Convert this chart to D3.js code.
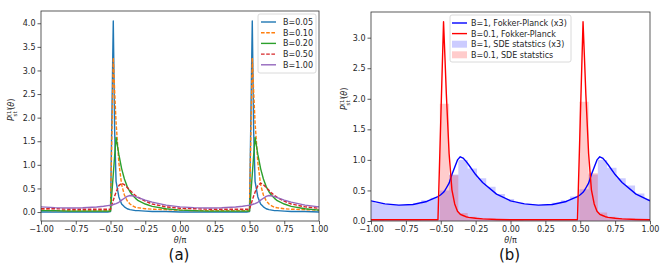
<!DOCTYPE html>
<html>
<head>
<meta charset="utf-8">
<script src="https://cdn.jsdelivr.net/npm/d3@7"></script>
<style>
  body { margin: 0; background: #fff; }
  text { font-family: "DejaVu Sans", sans-serif; }
</style>
</head>
<body>
<div id="chart"></div>
<script>
// theta/pi grid shared by the line curves
const theta = [-1.00,-0.90,-0.80,-0.70,-0.60,-0.55,-0.52,-0.50,
  -0.48,-0.47,-0.46,-0.44,-0.42,-0.40,-0.38,-0.36,-0.34,-0.32,-0.30,
  -0.25,-0.20,-0.10,0.00,
  0.10,0.20,0.30,0.40,0.45,0.48,0.50,
  0.52,0.53,0.54,0.56,0.58,0.60,0.62,0.64,0.66,0.68,0.70,
  0.75,0.80,0.90,1.00];

// panel (a) curves
const pB005 = [0.00,0.00,0.00,0.00,0.00,0.00,0.00,0.01,
  4.05,1.70,0.65,0.32,0.17,0.11,0.07,0.05,0.04,0.03,0.03,
  0.02,0.01,0.01,0.00,
  0.00,0.00,0.00,0.00,0.00,0.00,0.01,
  4.05,1.70,0.65,0.32,0.17,0.11,0.07,0.05,0.04,0.03,0.03,
  0.02,0.01,0.01,0.00];
const pB010 = [0.04,0.03,0.03,0.03,0.03,0.03,0.03,0.03,
  3.27,2.55,1.90,1.05,0.58,0.36,0.24,0.17,0.13,0.10,0.09,
  0.07,0.06,0.05,0.04,
  0.03,0.03,0.03,0.03,0.03,0.03,0.03,
  3.27,2.55,1.90,1.05,0.58,0.36,0.24,0.17,0.13,0.10,0.09,
  0.07,0.06,0.05,0.04];
const pB020 = [0.03,0.03,0.02,0.02,0.02,0.02,0.02,0.02,
  0.80,1.20,1.58,1.22,0.92,0.70,0.54,0.43,0.35,0.29,0.24,
  0.17,0.12,0.07,0.04,
  0.03,0.02,0.02,0.02,0.02,0.02,0.02,
  0.80,1.20,1.58,1.22,0.92,0.70,0.54,0.43,0.35,0.29,0.24,
  0.17,0.12,0.07,0.04];
const pB050 = [0.07,0.07,0.06,0.06,0.06,0.06,0.06,0.06,
  0.25,0.34,0.42,0.56,0.61,0.58,0.52,0.46,0.40,0.35,0.31,
  0.23,0.17,0.11,0.08,
  0.07,0.06,0.06,0.06,0.06,0.06,0.06,
  0.25,0.34,0.42,0.56,0.61,0.58,0.52,0.46,0.40,0.35,0.31,
  0.23,0.17,0.11,0.08];
const pB100 = [0.110,0.093,0.087,0.090,0.107,0.123,0.135,0.143,
  0.160,0.170,0.180,0.207,0.253,0.293,0.333,0.350,0.343,0.327,0.307,
  0.253,0.210,0.147,0.110,
  0.093,0.087,0.090,0.107,0.123,0.135,0.143,
  0.160,0.170,0.180,0.207,0.253,0.293,0.333,0.350,0.343,0.327,0.307,
  0.253,0.210,0.147,0.110];

const seriesA = [
  {label: "B=0.05", values: pB005, color: "#1f77b4", dash: null},
  {label: "B=0.10", values: pB010, color: "#ff7f0e", dash: "3.6,1.6"},
  {label: "B=0.20", values: pB020, color: "#2ca02c", dash: null},
  {label: "B=0.50", values: pB050, color: "#d62728", dash: "3.6,1.6"},
  {label: "B=1.00", values: pB100, color: "#9467bd", dash: null}
];

// panel (b) Fokker-Planck curves
const fpB1x3 = [0.33,0.28,0.26,0.27,0.32,0.37,0.40,0.43,
  0.47,0.50,0.54,0.62,0.76,0.88,1.00,1.05,1.03,0.98,0.92,
  0.76,0.63,0.44,0.33,
  0.28,0.26,0.27,0.32,0.37,0.40,0.43,
  0.47,0.50,0.54,0.62,0.76,0.88,1.00,1.05,1.03,0.98,0.92,
  0.76,0.63,0.44,0.33];
const fpB01 = [0.02,0.02,0.02,0.02,0.02,0.02,0.02,1.64,
  3.26,2.68,2.08,1.10,0.51,0.28,0.16,0.11,0.09,0.07,0.06,
  0.045,0.035,0.025,0.02,
  0.02,0.02,0.02,0.02,0.02,0.02,1.64,
  3.26,2.68,2.08,1.10,0.51,0.28,0.16,0.11,0.09,0.07,0.06,
  0.045,0.035,0.025,0.02];

// panel (b) SDE histograms
const binEdges = [-1.040,-0.974,-0.907,-0.840,-0.774,-0.707,-0.640,-0.574,
  -0.507,-0.440,-0.374,-0.307,-0.240,-0.174,-0.107,-0.040,0.026,0.093,
  0.160,0.226,0.293,0.360,0.426,0.493,0.560,0.626,0.693,0.760,0.826,
  0.893,0.960,1.026];
const sdeB1x3 = [0.31,0.29,0.27,0.26,0.26,0.28,0.34,0.38,0.50,0.76,1.00,
  0.86,0.70,0.56,0.44,0.36,0.30,0.27,0.26,0.27,0.30,0.34,0.40,0.52,0.76,
  1.00,0.87,0.70,0.58,0.45,0.36];
const sdeB01 = [0.02,0.02,0.01,0.01,0.01,0.01,0.00,0.00,1.92,0.75,0.13,
  0.07,0.05,0.04,0.03,0.02,0.02,0.01,0.01,0.01,0.00,0.00,0.00,1.95,0.78,
  0.14,0.07,0.05,0.04,0.03,0.02];

const xTicks = [-1, -0.75, -0.5, -0.25, 0, 0.25, 0.5, 0.75, 1];
const yTicksA = [0, 0.5, 1, 1.5, 2, 2.5, 3, 3.5, 4];
const yTicksB = [0, 0.5, 1, 1.5, 2, 2.5, 3];

const svg = d3.select("#chart").append("svg")
    .attr("width", 664)
    .attr("height", 272);

const fmtX = d => d3.format(".2f")(d).replace("-", "\u2212");
const fmtY = d => d3.format(".1f")(d).replace("-", "\u2212");

function drawFrame(g, x, y, yTicks, box, name, ylab) {
    g.append("g")
        .attr("transform", `translate(0,${box.bottom})`)
        .call(d3.axisBottom(x).tickValues(xTicks).tickFormat(fmtX).tickSize(3.5).tickPadding(2))
        .call(a => a.select(".domain").remove());
    g.append("g")
        .attr("transform", `translate(${box.left},0)`)
        .call(d3.axisLeft(y).tickValues(yTicks).tickFormat(fmtY).tickSize(3.5).tickPadding(2))
        .call(a => a.select(".domain").remove());
    g.selectAll(".tick text").attr("font-size", 8).attr("fill", "#262626")
        .attr("font-family", "DejaVu Sans");
    g.selectAll(".tick line").attr("stroke", "#333").attr("stroke-width", 0.8);

    g.append("rect")
        .attr("x", box.left).attr("y", box.top)
        .attr("width", box.right - box.left).attr("height", box.bottom - box.top)
        .attr("fill", "none").attr("stroke", "#333").attr("stroke-width", 0.8);

    const cx = (box.left + box.right) / 2;
    g.append("text").attr("x", cx).attr("y", 243)
        .attr("text-anchor", "middle").attr("font-size", 8).attr("fill", "#262626")
        .html('<tspan font-style="italic">\u03b8</tspan>/\u03c0');

    // y label: P_st^(1)(theta)
    const yl = g.append("text")
        .attr("transform", `translate(${ylab.x},${ylab.y}) rotate(-90)`)
        .attr("font-size", 8).attr("fill", "#262626");
    yl.append("tspan").attr("x", -11).attr("font-style", "italic").text("P");
    yl.append("tspan").attr("font-size", 5.5).attr("dy", -3.5).text("(1)");
    yl.append("tspan").attr("font-size", 5.5).attr("dx", -8).attr("dy", 6).text("st");
    yl.append("tspan").attr("dy", -2.5).attr("dx", 1.5).text("(");
    yl.append("tspan").attr("font-style", "italic").text("\u03b8");
    yl.append("tspan").text(")");

    g.append("text").attr("x", cx - 1).attr("y", 260)
        .attr("text-anchor", "middle").attr("font-size", 15)
        .attr("font-family", "Liberation Sans, Arial, sans-serif")
        .attr("fill", "#111").text(name);
}

// ---------- panel (a) ----------
const boxA = {left: 41, right: 319, top: 11, bottom: 221};
const xA = d3.scaleLinear().domain([-1, 1]).range([boxA.left, boxA.right]);
const yA = d3.scaleLinear().domain([-0.19, 4.26]).range([boxA.bottom, boxA.top]);
const gA = svg.append("g");

gA.append("clipPath").attr("id", "clipA").append("rect")
    .attr("x", boxA.left).attr("y", boxA.top)
    .attr("width", boxA.right - boxA.left).attr("height", boxA.bottom - boxA.top);

const lineA = d3.line().x((d, i) => xA(theta[i])).y(d => yA(d));
gA.append("g").attr("clip-path", "url(#clipA)")
    .selectAll("path").data(seriesA).join("path")
    .attr("d", d => lineA(d.values))
    .attr("fill", "none")
    .attr("stroke", d => d.color)
    .attr("stroke-width", 1.4)
    .attr("stroke-dasharray", d => d.dash)
    .attr("stroke-linejoin", "round");

drawFrame(gA, xA, yA, yTicksA, boxA, "(a)", {x: 14, y: 110});

const legA = gA.append("g");
legA.append("rect").attr("x", 258).attr("y", 14).attr("width", 58).attr("height", 59)
    .attr("rx", 2).attr("fill", "#fff").attr("fill-opacity", 0.8)
    .attr("stroke", "#d0d0d0").attr("stroke-width", 0.8);
seriesA.forEach((s, i) => {
    const yy = 22 + i * 10.7;
    legA.append("line").attr("x1", 261).attr("x2", 276).attr("y1", yy).attr("y2", yy)
        .attr("stroke", s.color).attr("stroke-width", 1.4).attr("stroke-dasharray", s.dash);
    legA.append("text").attr("x", 283).attr("y", yy + 3).attr("font-size", 8)
        .attr("fill", "#262626").text(s.label);
});

// ---------- panel (b) ----------
const boxB = {left: 371, right: 650, top: 12, bottom: 221};
const xB = d3.scaleLinear().domain([-1, 1]).range([boxB.left, boxB.right]);
const yB = d3.scaleLinear().domain([0, 3.42]).range([boxB.bottom, boxB.top]);
const gB = svg.append("g");

gB.append("clipPath").attr("id", "clipB").append("rect")
    .attr("x", boxB.left).attr("y", boxB.top)
    .attr("width", boxB.right - boxB.left).attr("height", boxB.bottom - boxB.top);

const plotB = gB.append("g").attr("clip-path", "url(#clipB)");

// histogram as one step-shaped area, so bins have no seams
const histArea = d3.area()
    .x(d => xB(d[0]))
    .y0(yB(0))
    .y1(d => yB(d[1]))
    .curve(d3.curveStepAfter);
function drawHist(values, color) {
    const pts = binEdges.map((e, i) => [e, values[Math.min(i, values.length - 1)]]);
    plotB.append("path").attr("d", histArea(pts))
        .attr("fill", color).attr("fill-opacity", 0.2);
}
drawHist(sdeB1x3, "#0000ff");
drawHist(sdeB01, "#ff0000");

const lineB = d3.line().x((d, i) => xB(theta[i])).y(d => yB(d));
plotB.append("path").attr("d", lineB(fpB1x3)).attr("fill", "none")
    .attr("stroke", "#0000ff").attr("stroke-width", 1.4).attr("stroke-linejoin", "round");
plotB.append("path").attr("d", lineB(fpB01)).attr("fill", "none")
    .attr("stroke", "#ff0000").attr("stroke-width", 1.4).attr("stroke-linejoin", "round");

drawFrame(gB, xB, yB, yTicksB, boxB, "(b)", {x: 347, y: 99});

const legendB = [
    {label: "B=1, Fokker-Planck (x3)", color: "#0000ff", kind: "line"},
    {label: "B=0.1, Fokker-Planck", color: "#ff0000", kind: "line"},
    {label: "B=1, SDE statstics (x3)", color: "#0000ff", kind: "patch"},
    {label: "B=0.1, SDE statstics", color: "#ff0000", kind: "patch"}
];
const legB = gB.append("g");
legB.append("rect").attr("x", 450).attr("y", 15).attr("width", 121).attr("height", 47)
    .attr("rx", 2).attr("fill", "#fff").attr("fill-opacity", 0.8)
    .attr("stroke", "#d0d0d0").attr("stroke-width", 0.8);
legendB.forEach((s, i) => {
    const yy = 23 + i * 10.6;
    if (s.kind === "line") {
        legB.append("line").attr("x1", 452).attr("x2", 467).attr("y1", yy).attr("y2", yy)
            .attr("stroke", s.color).attr("stroke-width", 1.4);
    } else {
        legB.append("rect").attr("x", 452).attr("y", yy - 3.5).attr("width", 15).attr("height", 7)
            .attr("fill", s.color).attr("fill-opacity", 0.2);
    }
    legB.append("text").attr("x", 471).attr("y", yy + 3).attr("font-size", 8)
        .attr("fill", "#262626").text(s.label);
});
</script>
</body>
</html>
